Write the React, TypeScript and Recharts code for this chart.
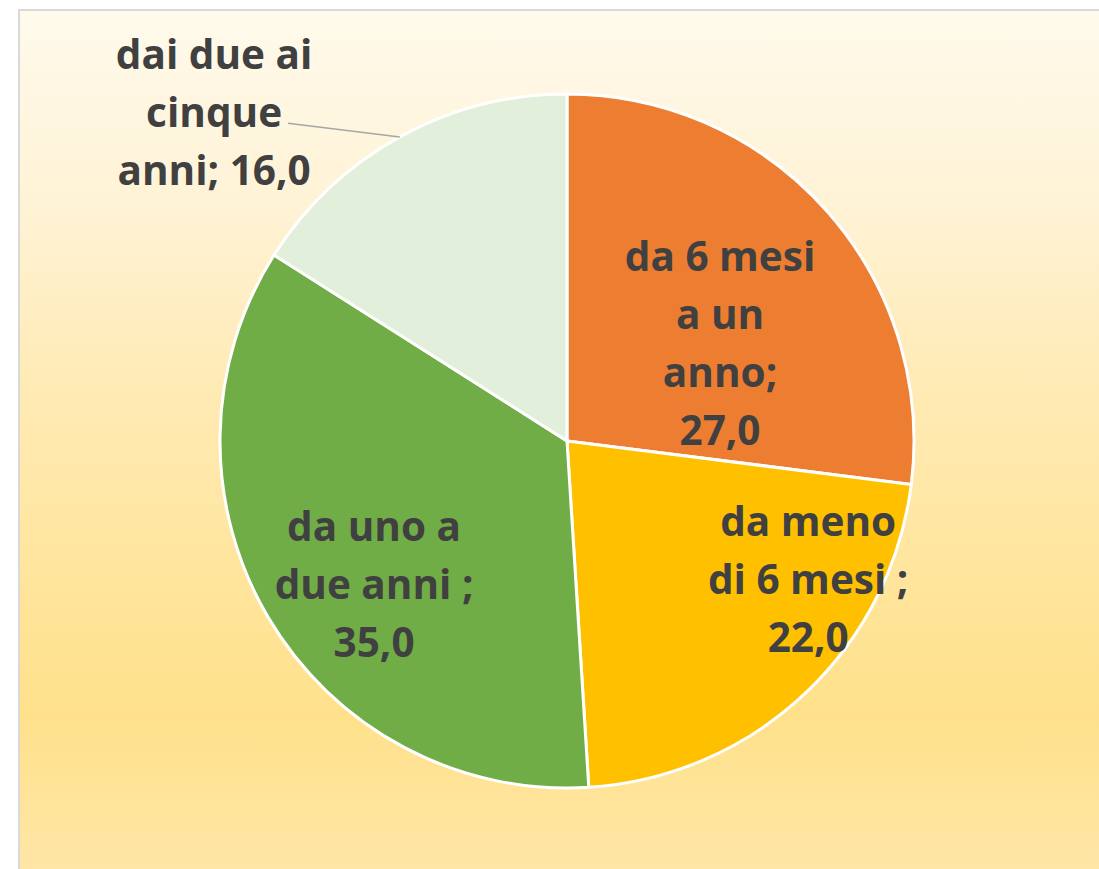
import React from "react";
import { PieChart, Pie, Cell } from "recharts";

const categories = [
  "da 6 mesi a un anno",
  "da meno di 6 mesi",
  "da uno a due anni",
  "dai due ai cinque anni",
];
const values = [27.0, 22.0, 35.0, 16.0];
const labelLines = [
  ["da 6 mesi", "a un", "anno;", "27,0"],
  ["da meno", "di 6 mesi ;", "22,0"],
  ["da uno a", "due anni ;", "35,0"],
  ["dai due ai", "cinque", "anni; 16,0"],
];
const colors = ["#ED7D31", "#FFC000", "#70AD47", "#E2EFDA"];

const data = categories.map((name, i) => ({ name, value: values[i], lines: labelLines[i] }));

// label placement relative to pie centre, in units of outer radius
const labelLayout = [
  { fx: 0.441, fy: -0.285, leader: null as null | { fx: number; fy: number } },
  { fx: 0.695, fy: 0.395, leader: null },
  { fx: -0.556, fy: 0.412, leader: null },
  { fx: -1.017, fy: -0.951, leader: { fx: 0.213, fy: 0.035 } },
];

const LINE_H = 58;
const RAD = Math.PI / 180;

const renderLabel = (props: any) => {
  const { cx, cy, outerRadius, midAngle, index } = props;
  const lay = labelLayout[index];
  const lines: string[] = data[index].lines;
  const x = cx + lay.fx * outerRadius;
  const y = cy + lay.fy * outerRadius;
  const n = lines.length;
  let leader = null;
  if (lay.leader) {
    const sx = cx + outerRadius * Math.cos(midAngle * RAD);
    const sy = cy - outerRadius * Math.sin(midAngle * RAD);
    const ex = x + lay.leader.fx * outerRadius;
    const ey = y + lay.leader.fy * outerRadius;
    leader = <line x1={sx} y1={sy} x2={ex} y2={ey} stroke="#A6A6A6" strokeWidth={1.5} />;
  }
  return (
    <g key={`lbl-${index}`}>
      {leader}
      <text
        x={x}
        y={y}
        textAnchor="middle"
        fill="#404040"
        style={{ fontFamily: "'Open Sans', sans-serif", fontWeight: 700, fontSize: 40.5 }}
      >
        {lines.map((ln, i) => (
          <tspan key={i} x={x} y={y + (i - (n - 1) / 2) * LINE_H} dominantBaseline="central">
            {ln}
          </tspan>
        ))}
      </text>
    </g>
  );
};

export default function App() {
  return (
    <div
      style={{
        position: "fixed",
        left: 0,
        top: 0,
        width: 1099,
        height: 869,
        overflow: "hidden",
        background: "#ffffff",
      }}
    >
      <div
        style={{
          position: "absolute",
          left: 18,
          top: 9,
          width: 1081,
          height: 860,
          borderLeft: "2px solid #D9D9D9",
          borderTop: "2px solid #D9D9D9",
          background:
            "linear-gradient(to bottom, #FFFAEC 0%, #FFF3D6 22%, #FFEAB3 45%, #FFE18B 82%, #FFE6A7 100%)",
          overflow: "hidden",
        }}
      >
        <PieChart width={1079} height={858} margin={{ top: 0, right: 0, bottom: 0, left: 0 }}>
          <Pie
            data={data}
            dataKey="value"
            nameKey="name"
            cx={547}
            cy={430}
            outerRadius={347}
            startAngle={90}
            endAngle={-270}
            stroke="#FFFFFF"
            strokeWidth={3}
            label={renderLabel}
            labelLine={false}
            isAnimationActive={false}
          >
            {data.map((d, i) => (
              <Cell key={d.name} fill={colors[i]} />
            ))}
          </Pie>
        </PieChart>
      </div>
    </div>
  );
}
